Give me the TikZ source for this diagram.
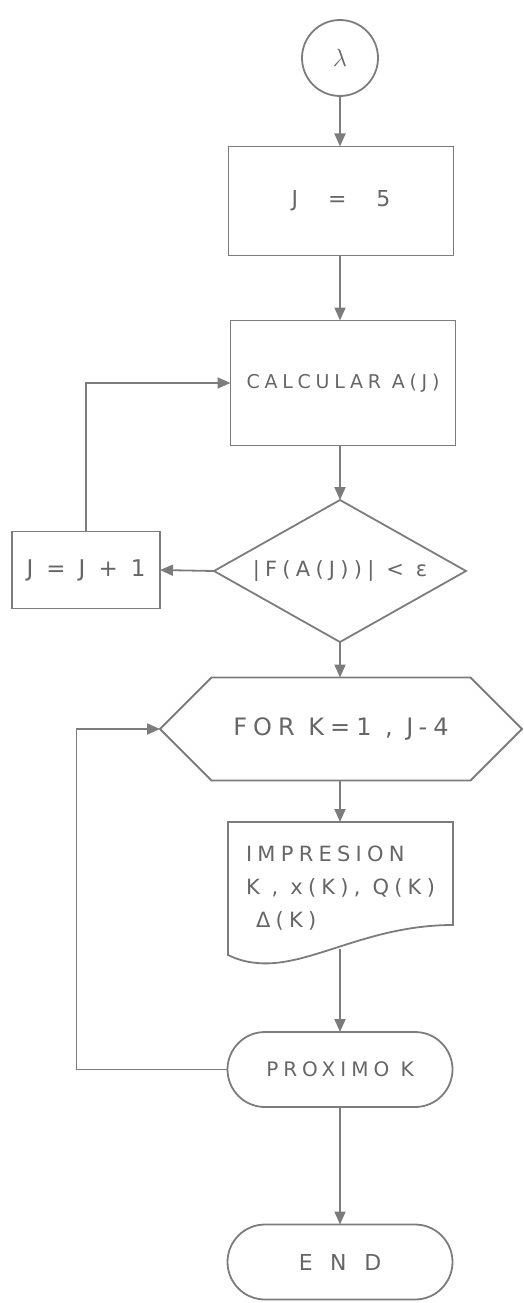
\documentclass[tikz,border=0pt]{standalone}
\usepackage{fontspec}
\usepackage{amsmath}
\newfontfamily\handfont[LetterSpace=25]{DejaVu Sans}
\usetikzlibrary{
  positioning, arrows.meta, shapes.geometric, shapes.misc, shapes.symbols, calc,
}
\definecolor{cLine}{HTML}{7C7C7C}
\definecolor{cInk} {HTML}{666666}

\begin{document}
\begin{tikzpicture}[x=1pt, y=-1pt,
    every node/.style={inner sep=0pt, outer sep=0pt, text=cInk, font=\handfont},
    shp/.style={draw=cLine, line width=1.8pt},
    procbox/.style={shp, rectangle, minimum width=225pt},
    termbox/.style={shp, rounded rectangle, minimum width=225pt, minimum height=75pt},
    flow/.style={draw=cLine, line width=1.8pt, -{Triangle[width=11pt,length=13pt]}},
  ]
  \useasboundingbox (0,0) rectangle (523,1303);

  % main column, top to bottom
  \node[shp, circle, minimum size=76pt] (lam) at (340,58)
    {\fontsize{38}{38}\selectfont$\lambda$};
  \node[procbox, minimum height=109pt] (setj) at (341,201)
    {\fontsize{22}{26}\selectfont J\hspace{30pt}=\hspace{30pt}5};
  \node[procbox, minimum height=125pt] (calc) at (343,383)
    {\fontsize{19}{22}\selectfont CALCULAR A(J)};
  \node[shp, diamond, aspect=1.8, minimum width=252pt, minimum height=142pt] (test) at (340,571)
    {\fontsize{21}{24}\selectfont |F(A(J))| < ε};
  \node[shp, rectangle, minimum width=148pt, minimum height=77pt] (incr) at (86,570)
    {\fontsize{23}{26}\selectfont J = J + 1};
  \node[shp, signal, signal to=west and east, minimum width=362pt, minimum height=103pt] (loopk) at (341,729)
    {\fontsize{24}{28}\selectfont FOR K=1 , J-4};

  % print block: text node, outline drawn below
  \node[rectangle, minimum width=225pt, minimum height=133pt, align=left,
        font=\handfont\fontsize{21}{33}\selectfont] (impr) at (340.5,888.5)
    {IMPRESION\\ K , x(K), Q(K)\\ \hspace*{10pt}Δ(K)};
  \draw[shp] (impr.north west) -- (impr.north east) -- ($(impr.south east)+(0,-30)$)
    .. controls ($(impr.south west)+(122,-30)$) and ($(impr.south west)+(62,30)$) .. (impr.south west) -- cycle;
  \coordinate (imprexit) at (340,949);

  \node[termbox] (prox) at (340,1069.5) {\fontsize{20}{24}\selectfont PROXIMO K};
  \node[termbox] (fin) at (340,1262)
    {\fontsize{22}{26}\selectfont\addfontfeature{LetterSpace=80}END};

  % connectors
  \draw[flow] (lam.south) -- (lam.south |- setj.north);
  \draw[flow] (setj.south -| lam.south) -- (lam.south |- calc.north);
  \draw[flow] (calc.south -| lam.south) -- (test.north);
  \draw[flow] (test.west) -- (incr.east);
  \draw[flow] (incr.north) |- (calc.west);
  \draw[flow] (test.south) -- (test.south |- loopk.north);
  \draw[flow] (loopk.south -| test.south) -- (test.south |- impr.north);
  \draw[flow] (imprexit) -- (prox.north);
  \draw[flow] (prox.west) -- ++(-151,0) |- (loopk.west);
  \draw[flow] (prox) -- (fin);
\end{tikzpicture}
\end{document}
